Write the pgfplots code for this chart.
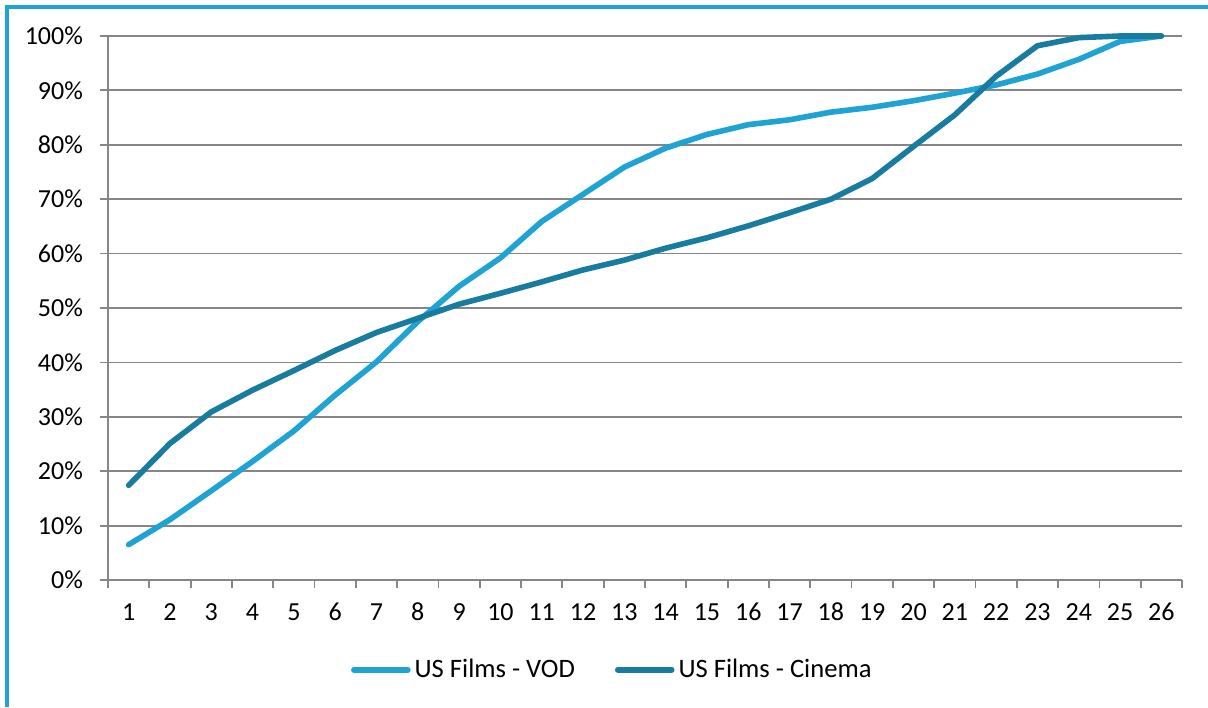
\documentclass[border=0pt]{standalone}
\usepackage{pgfplots}
\pgfplotsset{compat=1.18}
\usepackage{fontspec}
\setmainfont{Carlito}
\definecolor{vod}{RGB}{31,163,213}
\definecolor{cin}{RGB}{24,124,161}
\definecolor{gridg}{RGB}{134,134,134}
\pgfplotstableread{
x vod cinema
1 6.5 17.4
2 11.1 25.1
3 16.4 30.9
4 21.8 34.9
5 27.4 38.5
6 34.0 42.2
7 40.1 45.5
8 47.5 48.1
9 54.0 50.7
10 59.2 52.7
11 65.9 54.8
12 70.9 57.0
13 75.9 58.8
14 79.4 61.0
15 81.9 62.9
16 83.7 65.1
17 84.6 67.5
18 86.0 70.0
19 86.9 73.8
20 88.1 79.7
21 89.5 85.5
22 91.0 92.6
23 93.0 98.2
24 95.7 99.7
25 99.0 100
26 100 100
}\datatable
\begin{document}
\begin{tikzpicture}[x=1pt,y=1pt]
\useasboundingbox (0,0) rectangle (604,353.5);
\fill[white] (0,0) rectangle (604,353.5);
\draw[vod, line width=2pt] (3.5,0) -- (3.5,350) -- (604,350);
\begin{axis}[
  at={(54pt,63.5pt)}, anchor=south west,
  scale only axis, width=537pt, height=272pt,
  xmin=0.5, xmax=26.5, ymin=0, ymax=100,
  axis x line*=bottom, axis y line*=left,
  axis line style={gridg, line width=0.9pt},
  xtick={1,...,26}, major x tick style={draw=none},
  minor xtick={0.5,1.5,...,26.5},
  minor x tick style={gridg, line width=0.9pt},
  ytick={0,10,...,100},
  yticklabel={\pgfmathprintnumber{\tick}\%},
  ymajorgrids, grid style={gridg, line width=0.9pt},
  major y tick style={gridg, line width=0.9pt},
  tick align=outside,
  major tick length=4pt, minor tick length=4pt,
  tick label style={font=\fontsize{13}{15}\selectfont, text=black},
  /pgf/number format/assume math mode=true,
  yticklabel style={xshift=-5pt},
  xticklabel style={yshift=-5pt, text height=1.6ex, text depth=0pt},
  legend columns=2,
  legend style={at={(0.4705,-0.165)}, anchor=center, draw=none,
    font=\fontsize{13.3}{15}\selectfont, inner sep=0pt},
  legend cell align=left,
  legend image code/.code={\draw[#1, line cap=round] (0pt,0pt) -- (27pt,0pt);},
  /tikz/every even column/.append style={column sep=18pt},
  clip=false,
]
\addplot[vod, line width=2.8pt, line join=round, line cap=round] table[x=x, y=vod] {\datatable};
\addlegendentry{US Films - VOD}
\addplot[cin, line width=2.8pt, line join=round, line cap=round] table[x=x, y=cinema] {\datatable};
\addlegendentry{US Films - Cinema}
\end{axis}
\end{tikzpicture}
\end{document}
